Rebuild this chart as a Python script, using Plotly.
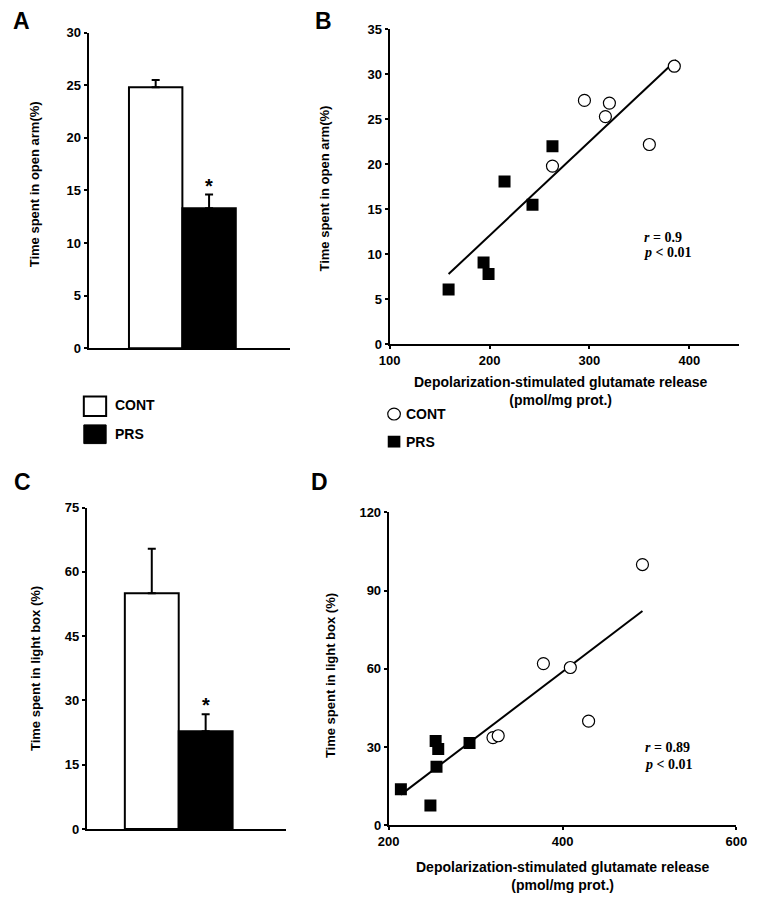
import plotly.graph_objects as go

W, H = 758, 900

# ---------------- data ----------------
groups = ["CONT", "PRS"]
# Panel A: time spent in open arm (%)
a_mean = [24.8, 13.3]
a_sem = [0.7, 1.3]
# Panel C: time spent in light box (%)
c_mean = [55.0, 22.8]
c_sem = [10.4, 4.0]

# Panel B: glutamate release vs open-arm time
b_cont_x = [263, 295, 316, 320, 360, 385]
b_cont_y = [19.8, 27.1, 25.3, 26.8, 22.2, 30.9]
b_prs_x = [159, 194, 199, 215, 243, 263]
b_prs_y = [6.1, 9.1, 7.8, 18.1, 15.5, 22.0]
b_fit_x = [159, 387]
b_fit_y = [7.8, 31.6]

# Panel D: glutamate release vs light-box time
d_cont_x = [320, 326, 378, 409, 430, 492]
d_cont_y = [33.6, 34.3, 62.0, 60.5, 39.9, 100.0]
d_prs_x = [214, 248, 254, 257, 255, 293]
d_prs_y = [13.8, 7.5, 32.3, 29.2, 22.4, 31.5]
d_fit_x = [214, 492]
d_fit_y = [11.7, 82.2]

b_xticks = [100, 200, 300, 400]
d_xticks = [200, 400, 600]

# ---------------- helpers ----------------
def px(x):
    return x / W

def py(y):
    return 1 - y / H

FONT = "Liberation Sans"
tickfont = dict(family=FONT, size=13, color="black", weight="bold")

fig = go.Figure()

# Panel A bars
fig.add_trace(go.Bar(
    x=groups, y=a_mean, width=[1, 1],
    marker=dict(color=["white", "black"], line=dict(color="black", width=2)),
    error_y=dict(type="data", symmetric=False, array=a_sem, arrayminus=[0, 0],
                 color="black", thickness=2, width=4),
    xaxis="x", yaxis="y", showlegend=False))

# Panel C bars
fig.add_trace(go.Bar(
    x=groups, y=c_mean, width=[1, 1],
    marker=dict(color=["white", "black"], line=dict(color="black", width=2)),
    error_y=dict(type="data", symmetric=False, array=c_sem, arrayminus=[0, 0],
                 color="black", thickness=2, width=4),
    xaxis="x3", yaxis="y3", showlegend=False))

# Panel B
fig.add_trace(go.Scatter(x=b_fit_x, y=b_fit_y, mode="lines",
                         line=dict(color="black", width=2),
                         xaxis="x2", yaxis="y2", showlegend=False))
fig.add_trace(go.Scatter(x=b_prs_x, y=b_prs_y, mode="markers",
                         marker=dict(symbol="square", size=12, color="black"),
                         xaxis="x2", yaxis="y2", showlegend=False))
fig.add_trace(go.Scatter(x=b_cont_x, y=b_cont_y, mode="markers",
                         marker=dict(symbol="circle", size=12, color="white",
                                     line=dict(color="black", width=1.2)),
                         xaxis="x2", yaxis="y2", showlegend=False))

# Panel D
fig.add_trace(go.Scatter(x=d_fit_x, y=d_fit_y, mode="lines",
                         line=dict(color="black", width=2),
                         xaxis="x4", yaxis="y4", showlegend=False))
fig.add_trace(go.Scatter(x=d_prs_x, y=d_prs_y, mode="markers",
                         marker=dict(symbol="square", size=12, color="black"),
                         xaxis="x4", yaxis="y4", showlegend=False))
fig.add_trace(go.Scatter(x=d_cont_x, y=d_cont_y, mode="markers",
                         marker=dict(symbol="circle", size=12, color="white",
                                     line=dict(color="black", width=1.2)),
                         xaxis="x4", yaxis="y4", showlegend=False))

axis_common = dict(showline=True, linecolor="black", linewidth=2,
                   showgrid=False, zeroline=False, ticks="outside",
                   ticklen=3, tickwidth=2, tickcolor="black",
                   tickfont=tickfont, fixedrange=True)

layout = dict(
    width=W, height=H,
    margin=dict(l=0, r=0, t=0, b=0),
    paper_bgcolor="white", plot_bgcolor="white",
    bargap=0,
    hovermode=False,
    xaxis=dict(axis_common, domain=[px(80), px(287)], type="category",
               range=[-1.2545, 2.509], showticklabels=False, ticks="",
               anchor="y"),
    yaxis=dict(axis_common, domain=[py(347), py(26)], range=[0, 30],
               dtick=5, anchor="x"),
    xaxis2=dict(axis_common, domain=[px(390), px(750)], range=[100, 450],
                tickvals=b_xticks, anchor="y2"),
    yaxis2=dict(axis_common, domain=[py(343), py(22.7)], range=[0, 35],
                dtick=5, anchor="x2"),
    xaxis3=dict(axis_common, domain=[px(78), px(283)], type="category",
                range=[-1.207, 2.487], showticklabels=False, ticks="",
                anchor="y3"),
    yaxis3=dict(axis_common, domain=[py(836), py(509)], range=[0, 75],
                dtick=15, anchor="x3"),
    xaxis4=dict(axis_common, domain=[px(389), px(747)], range=[200, 600],
                tickvals=d_xticks, anchor="y4"),
    yaxis4=dict(axis_common, domain=[py(832), py(514)], range=[0, 120],
                dtick=30, anchor="x4"),
)
fig.update_layout(**layout)

ann = []
def label(x, y, text, size=13, angle=0, xanchor="center", family=FONT,
          weight="bold", align="center"):
    ann.append(dict(x=px(x), y=py(y), xref="paper", yref="paper", text=text,
                    showarrow=False, textangle=angle, xanchor=xanchor,
                    yanchor="middle", align=align,
                    font=dict(family=family, size=size, color="black",
                              weight=weight)))

# panel letters
label(11, 14, "A", size=23)
label(322, 14, "B", size=23)
label(12, 483, "C", size=23)
label(318, 483, "D", size=23)

# y titles
label(25, 180, "Time spent in open arm(%)", angle=-90)
label(323, 185, "Time spent in open arm(%)", angle=-90)
label(26, 673, "Time spent in light box (%)", angle=-90)
label(329, 680, "Time spent in light box (%)", angle=-90)

# x titles
label(566, 391, "Depolarization-stimulated glutamate release<br>(pmol/mg prot.)", size=14)
label(568, 884, "Depolarization-stimulated glutamate release<br>(pmol/mg prot.)", size=14)

# stats
SERIF = "Liberation Serif"
label(650, 234, "<i>r</i> = 0.9", size=14, xanchor="left", family=SERIF)
label(650, 250, "<i>p</i> &lt; 0.01", size=14, xanchor="left", family=SERIF)
label(651, 753, "<i>r</i> = 0.89", size=14, xanchor="left", family=SERIF)
label(651, 770, "<i>p</i> &lt; 0.01", size=14, xanchor="left", family=SERIF)

# legend texts
label(105, 405, "CONT", size=14, xanchor="left")
label(105, 434, "PRS", size=14, xanchor="left")
label(405, 414, "CONT", size=14, xanchor="left")
label(405, 442, "PRS", size=14, xanchor="left")

# asterisks above PRS bars
ann.append(dict(x="PRS", y=a_mean[1] + a_sem[1], xref="x", yref="y", text="*",
                showarrow=False, yanchor="bottom", yshift=-4,
                font=dict(family=FONT, size=20, color="black", weight="bold")))
ann.append(dict(x="PRS", y=c_mean[1] + c_sem[1], xref="x3", yref="y3", text="*",
                showarrow=False, yanchor="bottom", yshift=-4,
                font=dict(family=FONT, size=20, color="black", weight="bold")))

fig.update_layout(annotations=ann)

# legend swatches
shapes = [
    dict(type="rect", xref="paper", yref="paper", x0=px(75), x1=px(98),
         y0=py(416), y1=py(396), line=dict(color="black", width=2),
         fillcolor="white"),
    dict(type="rect", xref="paper", yref="paper", x0=px(75), x1=px(98),
         y0=py(444), y1=py(425), line=dict(color="black", width=1),
         fillcolor="black"),
    dict(type="circle", xref="paper", yref="paper", x0=px(388), x1=px(401),
         y0=py(420), y1=py(408), line=dict(color="black", width=1.2),
         fillcolor="white"),
    dict(type="rect", xref="paper", yref="paper", x0=px(388), x1=px(401),
         y0=py(448), y1=py(436), line=dict(color="black", width=0),
         fillcolor="black"),
]
fig.update_layout(shapes=shapes)

fig.write_html("out.html",
               config={"displayModeBar": False, "staticPlot": True},
               post_script="document.body.style.margin='0';"
                           "document.body.style.overflow='hidden';")
